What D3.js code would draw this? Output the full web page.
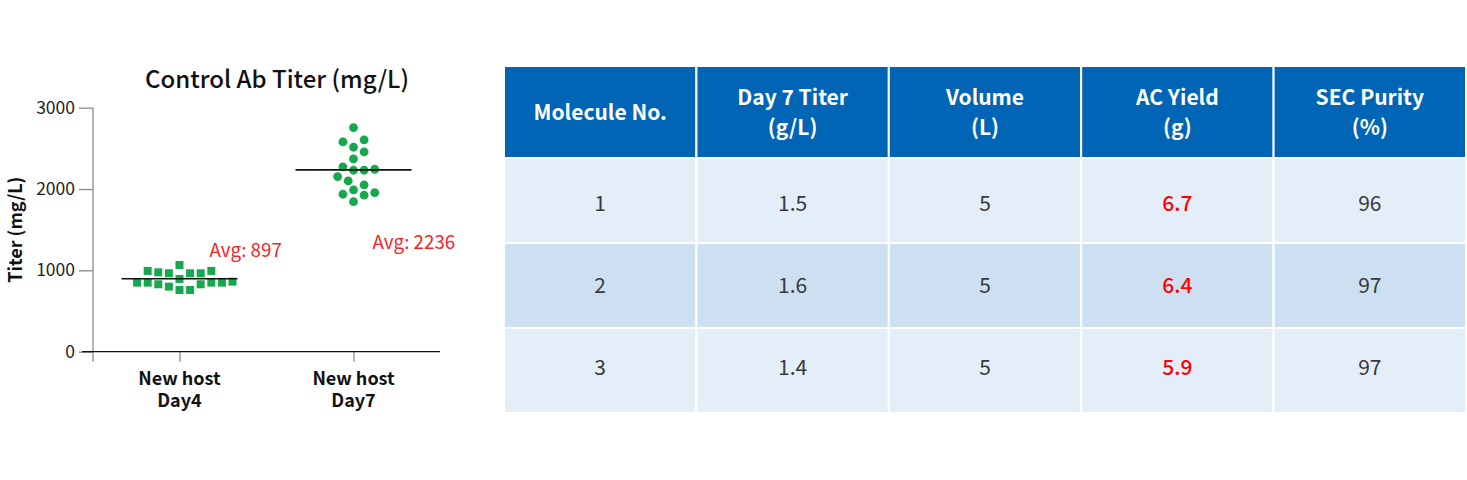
<!DOCTYPE html>
<html>
<head>
<meta charset="utf-8">
<script src="https://cdn.jsdelivr.net/npm/d3@7/dist/d3.min.js"></script>
<style>
  html, body { margin: 0; padding: 0; background: #ffffff; }
  svg { display: block; font-family: "Noto Sans CJK SC", "Noto Sans", sans-serif; }
</style>
</head>
<body>
<svg id="chart" width="1467" height="480"></svg>
<script>
// ---------------- data ----------------
const categories = ["New host\nDay4", "New host\nDay7"];
const day4Titer = [849, 849, 993, 829, 964, 800, 964, 759, 1066, 894, 759, 964, 829, 976, 849, 993, 849, 861];
const day7Titer = [2755, 2604, 2579, 2514, 2456, 2370, 2243, 2231, 2231, 2272, 2153, 2100, 2050, 1989, 1936, 1924, 1956, 1845];
const avgValues = [897, 2236];
const avgLabels = ["Avg: 897", "Avg: 2236"];
const yTicks = [0, 1000, 2000, 3000];

const tableHeaders = ["Molecule No.", "Day 7 Titer\n(g/L)", "Volume\n(L)", "AC Yield\n(g)", "SEC Purity\n(%)"];
const moleculeNo = ["1", "2", "3"];
const day7TiterGL = ["1.5", "1.6", "1.4"];
const volumeL = ["5", "5", "5"];
const acYieldG = ["6.7", "6.4", "5.9"];
const secPurity = ["96", "97", "97"];

// ---------------- chart ----------------
const svg = d3.select("#chart");
const FONT = '"Noto Sans CJK SC", "Noto Sans", sans-serif';
const green = "#16a84c";

const y = d3.scaleLinear().domain([0, 3000]).range([351.7, 107.7]);
const x = d3.scalePoint().domain(categories).range([93, 440]).padding(0.497);

// title
svg.append("text")
  .attr("x", 277).attr("y", 88)
  .attr("text-anchor", "middle")
  .attr("font-size", 24).attr("font-weight", 500)
  .attr("fill", "#111")
  .text("Control Ab Titer (mg/L)");

// y axis
const yAxis = d3.axisLeft(y).tickValues(yTicks).tickSize(14).tickSizeOuter(0).tickPadding(4).tickFormat(d3.format("d"));
const gy = svg.append("g").attr("transform", "translate(93,0)").call(yAxis);
gy.select(".domain").remove();
gy.selectAll(".tick line").attr("stroke", "#8a8a8a").attr("stroke-width", 1.3);
gy.selectAll(".tick text").attr("font-size", 17.5).attr("font-family", FONT).attr("fill", "#222");
svg.append("line")
  .attr("x1", 93).attr("x2", 93)
  .attr("y1", y(3000)).attr("y2", y(0) + 10)
  .attr("stroke", "#8a8a8a").attr("stroke-width", 1.3);

// y axis title
svg.append("text")
  .attr("transform", `translate(22,${(y(0) + y(3000)) / 2}) rotate(-90)`)
  .attr("text-anchor", "middle")
  .attr("font-size", 18).attr("font-weight", 700)
  .attr("fill", "#111")
  .text("Titer (mg/L)");

// x axis
const xAxis = d3.axisBottom(x).tickSize(10).tickSizeOuter(0).tickFormat("");
const gx = svg.append("g").attr("transform", `translate(0,${y(0)})`).call(xAxis);
gx.select(".domain").remove();
gx.selectAll(".tick line").attr("stroke", "#8a8a8a").attr("stroke-width", 1.3);
svg.append("line")
  .attr("x1", 82).attr("x2", 440)
  .attr("y1", y(0)).attr("y2", y(0))
  .attr("stroke", "#111").attr("stroke-width", 1.3);

// x labels
categories.forEach(c => {
  const lines = c.split("\n");
  lines.forEach((ln, i) => {
    svg.append("text")
      .attr("text-anchor", "middle")
      .attr("font-size", 18).attr("font-weight", 700)
      .attr("fill", "#111")
      .attr("x", x(c)).attr("y", 385 + i * 21.5).text(ln);
  });
});

// beeswarm layout (dodge on a lattice)
function swarm(values, cx, step, minDist) {
  const order = values.map((v, i) => i).sort((a, b) => values[a] - values[b]);
  const placed = [];
  const out = new Array(values.length);
  order.forEach(i => {
    const py = y(values[i]);
    for (let k = 0; k < 40; k++) {
      const kk = k === 0 ? 0 : (k % 2 === 1 ? (k + 1) / 2 : -k / 2);
      const px = cx + kk * step;
      const ok = placed.every(p => Math.hypot(p.x - px, p.y - py) >= minDist);
      if (ok) { placed.push({ x: px, y: py }); out[i] = { x: px, y: py, v: values[i] }; break; }
    }
  });
  return out;
}

const pts4 = swarm(day4Titer, x(categories[0]), 5.3, 10.2);
const pts7 = swarm(day7Titer, x(categories[1]), 5.3, 10.2);

svg.append("g").selectAll("rect").data(pts4).join("rect")
  .attr("x", d => d.x - 4).attr("y", d => d.y - 4)
  .attr("width", 8).attr("height", 8)
  .attr("fill", green);

svg.append("g").selectAll("circle").data(pts7).join("circle")
  .attr("cx", d => d.x).attr("cy", d => d.y).attr("r", 4.4)
  .attr("fill", green);

// mean lines
svg.append("g").selectAll("line").data(avgValues).join("line")
  .attr("x1", (d, i) => x(categories[i]) - 58)
  .attr("x2", (d, i) => x(categories[i]) + 58)
  .attr("y1", d => y(d)).attr("y2", d => y(d))
  .attr("stroke", "#111").attr("stroke-width", 1.6);

// avg labels
const avgOffsets = [{ dx: 30, dy: -21.5 }, { dx: 19, dy: 79 }];
svg.append("g").selectAll("text").data(avgValues).join("text")
  .attr("x", (d, i) => x(categories[i]) + avgOffsets[i].dx)
  .attr("y", (d, i) => y(d) + avgOffsets[i].dy)
  .attr("font-size", 18.8).attr("fill", "#f2262b")
  .text((d, i) => avgLabels[i]);

// ---------------- table ----------------
const columns = [moleculeNo, day7TiterGL, volumeL, acYieldG, secPurity];
const colX = d3.scaleBand().domain(d3.range(tableHeaders.length)).range([504, 1466]);
const rowY = d3.scaleBand().domain(d3.range(moleculeNo.length)).range([158, 413]);
const textY = d3.scalePoint().domain(d3.range(moleculeNo.length)).range([203.5, 367]);
const headerTop = 66;
const tbl = svg.append("g");

// header
tbl.selectAll("rect.h").data(tableHeaders).join("rect")
  .attr("class", "h")
  .attr("x", (d, i) => colX(i)).attr("y", headerTop)
  .attr("width", colX.bandwidth()).attr("height", rowY.range()[0] - headerTop)
  .attr("fill", "#0065b5").attr("stroke", "#ffffff").attr("stroke-width", 2);

tableHeaders.forEach((h, i) => {
  const lines = h.split("\n");
  const cy = (headerTop + rowY.range()[0]) / 2;
  const t = tbl.append("text")
    .attr("text-anchor", "middle")
    .attr("font-size", 21).attr("font-weight", 700)
    .attr("fill", "#ffffff");
  lines.forEach((ln, j) => {
    t.append("tspan")
      .attr("x", colX(i) + colX.bandwidth() / 2)
      .attr("y", cy + (j - (lines.length - 1) / 2) * 30)
      .attr("dy", "0.36em")
      .text(ln);
  });
});

// body
const rowFills = ["#e4eef8", "#cce0f1", "#e4eef8"];
moleculeNo.forEach((m, r) => {
  columns.forEach((col, c) => {
    tbl.append("rect")
      .attr("x", colX(c)).attr("y", rowY(r))
      .attr("width", colX.bandwidth()).attr("height", rowY.bandwidth())
      .attr("fill", rowFills[r]).attr("stroke", "#ffffff").attr("stroke-width", 2);
    const isRed = col === acYieldG;
    tbl.append("text")
      .attr("x", colX(c) + colX.bandwidth() / 2)
      .attr("y", textY(r))
      .attr("dy", "0.36em")
      .attr("text-anchor", "middle")
      .attr("font-size", 21)
      .attr("font-weight", isRed ? 500 : 400)
      .attr("fill", isRed ? "#ff0000" : "#3a3a3a")
      .text(col[r]);
  });
});
</script>
</body>
</html>
